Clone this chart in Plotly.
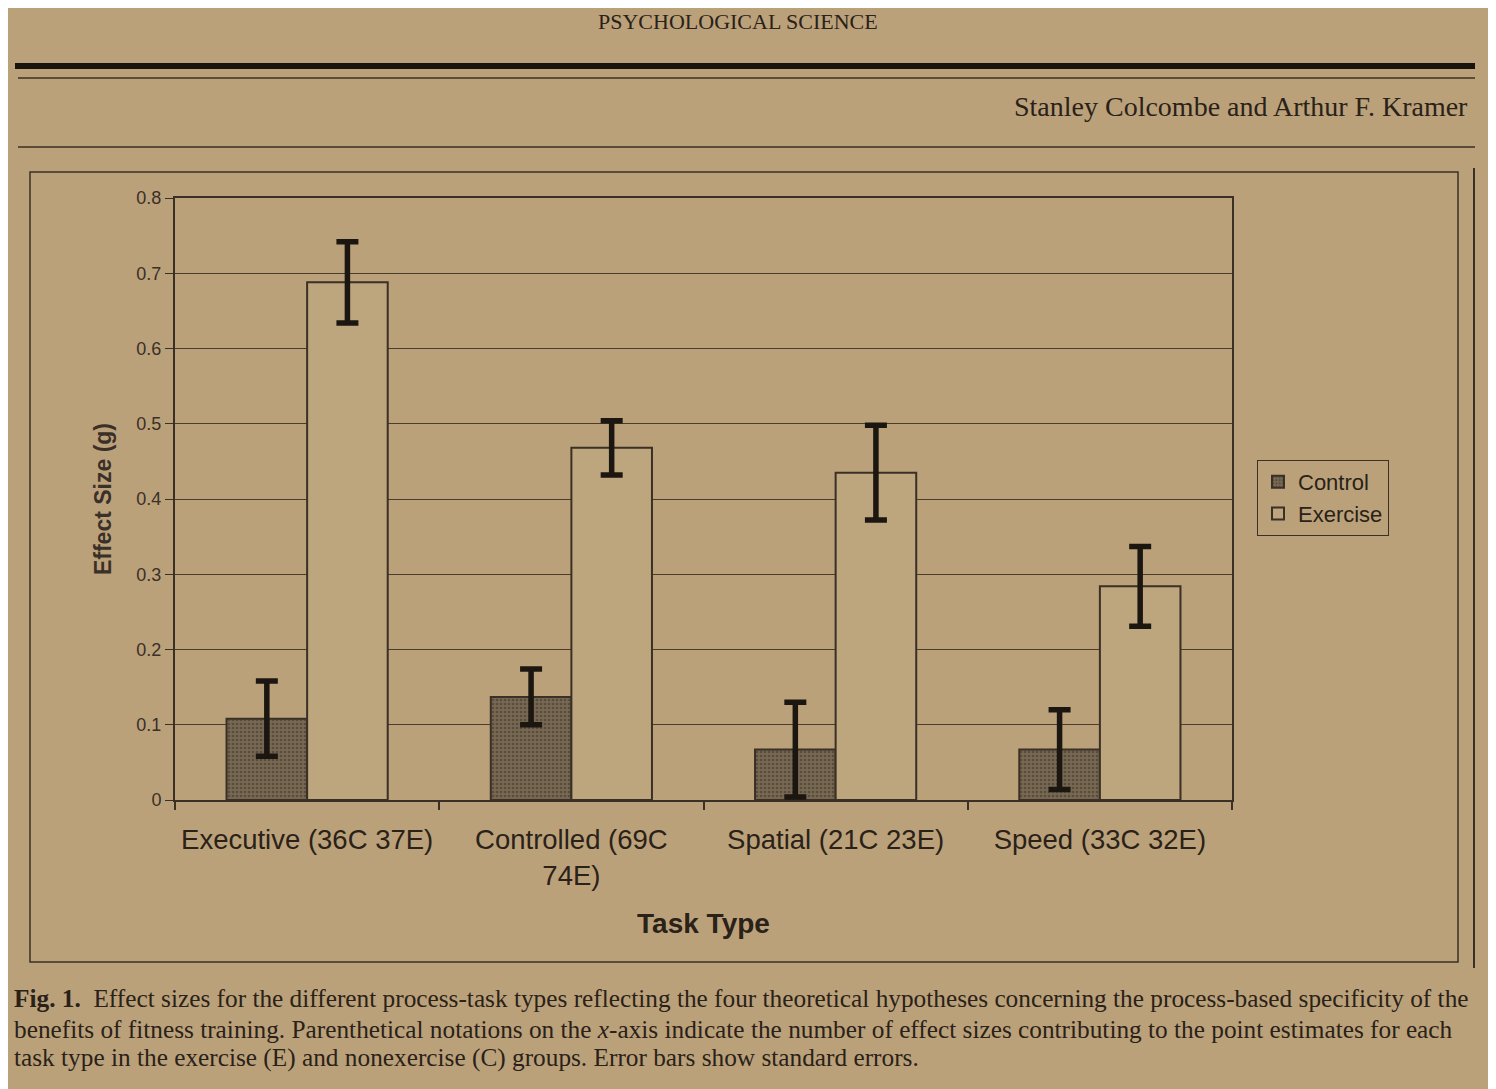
import plotly.graph_objects as go

# ---- data ----
categories = ["Executive (36C 37E)", "Controlled (69C<br>74E)", "Spatial (21C 23E)", "Speed (33C 32E)"]
control = [0.108, 0.137, 0.067, 0.067]
control_se = [0.050, 0.037, 0.063, 0.053]
exercise = [0.688, 0.468, 0.435, 0.284]
exercise_se = [0.054, 0.036, 0.063, 0.053]
series_names = ["Control", "Exercise"]

W, H = 1496, 1089
OFF = 8  # page body offset
# plot area in screen pixels
SX0, SY0, SX1, SY1 = 175, 198, 1232, 800
L, T = SX0 - OFF, SY0 - OFF
R, B = W - (SX1 - OFF), H - (SY1 - OFF)
PW, PH = SX1 - SX0, SY1 - SY0

def px(x):
    return (x - SX0) / PW

def py(y):
    return (SY1 - y) / PH

BG = "#baa17a"
INK = "#2a2118"
LINE = "#3b3026"

fig = go.Figure()
fig.add_trace(go.Bar(
    name=series_names[0], x=categories, y=control,
    marker=dict(color="#6f614e", line=dict(color=LINE, width=2),
                pattern=dict(shape=".", fgcolor="#3a3027", bgcolor="#776852", size=4, solidity=0.35)),
    error_y=dict(type="data", array=control_se, visible=True, color="#1c1611", thickness=5.5, width=11),
))
fig.add_trace(go.Bar(
    name=series_names[1], x=categories, y=exercise,
    marker=dict(color="#bda57e", line=dict(color=LINE, width=2)),
    error_y=dict(type="data", array=exercise_se, visible=True, color="#1c1611", thickness=5.5, width=11),
))

serif = "Liberation Serif"
sans = "Liberation Sans, Arial"

fig.update_layout(
    width=W, height=H,
    margin=dict(l=L, r=R, t=T, b=B, autoexpand=False),
    paper_bgcolor=BG, plot_bgcolor=BG,
    barmode="group", bargap=0.39, bargroupgap=0.0,
    font=dict(family=sans, color=INK),
    showlegend=True,
    legend=dict(x=px(1257), y=py(460), xanchor="left", yanchor="top",
                bgcolor="rgba(0,0,0,0)", bordercolor=LINE, borderwidth=1,
                font=dict(size=22, family=sans, color=INK), itemwidth=30,
                tracegroupgap=0),
    xaxis=dict(
        showline=True, linecolor=LINE, linewidth=2, mirror=True,
        ticks="outside", ticklen=8, tickcolor=LINE, tickwidth=1.5, tickson="boundaries",
        showgrid=False, ticklabelstandoff=14,
        tickfont=dict(size=27.5, family=sans, color=INK),
        title=dict(text="<b>Task Type</b>", font=dict(size=28, family=sans, color=INK), standoff=24),
    ),
    yaxis=dict(
        range=[0, 0.8], dtick=0.1, tick0=0,
        showline=True, linecolor=LINE, linewidth=2, mirror=True,
        ticks="outside", ticklen=8, tickcolor=LINE, tickwidth=1,
        showgrid=True, gridcolor="#4a3d30", gridwidth=1,
        zeroline=False,
        tickfont=dict(size=18, family=sans, color="#3a3028"),
        title=dict(text="<b>Effect Size (g)</b>", font=dict(size=23, family=sans, color="#3a3028"), standoff=18),
    ),
)

shapes = []
def hline(y, x0, x1, w, color=LINE):
    shapes.append(dict(type="line", xref="paper", yref="paper", x0=px(x0), x1=px(x1), y0=py(y), y1=py(y),
                       line=dict(color=color, width=w)))

hline(66, 15, 1475, 6, "#1a140f")
hline(78, 18, 1475, 1.5)
hline(147, 18, 1475, 1.5)
# outer chart frame
shapes.append(dict(type="rect", xref="paper", yref="paper", x0=px(30), x1=px(1458), y0=py(962), y1=py(172),
                   line=dict(color=LINE, width=1.5), fillcolor="rgba(0,0,0,0)", layer="below"))
# page edge
shapes.append(dict(type="line", xref="paper", yref="paper", x0=px(1474), x1=px(1474), y0=py(168), y1=py(968),
                   line=dict(color=LINE, width=2)))
fig.update_layout(shapes=shapes)

cap = dict(family=serif, size=25.3, color=INK)
anns = [
    dict(text="PSYCHOLOGICAL SCIENCE", x=px(738), y=py(21), xanchor="center", yanchor="middle",
         font=dict(family=serif, size=22, color=INK)),
    dict(text="Stanley Colcombe and Arthur F. Kramer", x=px(1470), y=py(106), xanchor="right", yanchor="middle",
         font=dict(family=serif, size=28, color=INK)),
    dict(text="<b>Fig. 1.</b>  Effect sizes for the different process-task types reflecting the four theoretical hypotheses concerning the process-based specificity of the",
         x=px(12), y=py(998), xanchor="left", yanchor="middle", font=cap),
    dict(text="benefits of fitness training. Parenthetical notations on the <i>x</i>-axis indicate the number of effect sizes contributing to the point estimates for each",
         x=px(12), y=py(1029), xanchor="left", yanchor="middle", font=cap),
    dict(text="task type in the exercise (E) and nonexercise (C) groups. Error bars show standard errors.",
         x=px(12), y=py(1057), xanchor="left", yanchor="middle", font=cap),
]
for a in anns:
    a.update(xref="paper", yref="paper", showarrow=False)
fig.update_layout(annotations=anns)

fig.write_html("out.html")
